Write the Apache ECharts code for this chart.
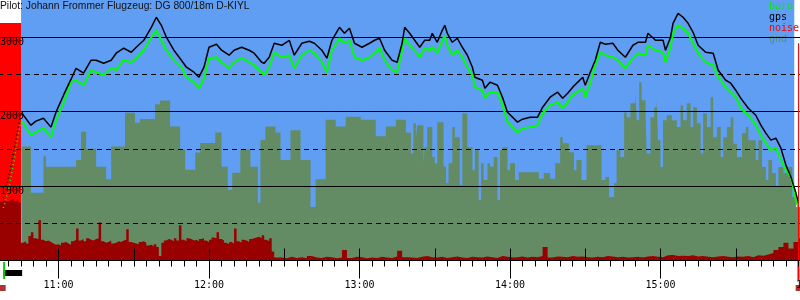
<!DOCTYPE html>
<html><head><meta charset="utf-8">
<script src="https://cdn.jsdelivr.net/npm/echarts@6/dist/echarts.min.js"></script>
<style>html,body{margin:0;padding:0;background:#fff}#c{width:800px;height:300px}</style>
</head><body><div id="c"></div>
<script>
const titleText = 'Pilot: Johann Frommer Flugzeug: DG 800/18m D-KIYL';
const legendNames = ['baro', 'gps', 'noise', 'gnd'];
const yLabels = [1000, 2000, 3000];

const lineTimes = [
 '10:45','10:46','10:49','10:51','10:54','10:57','10:59','11:02','11:05','11:07',
 '11:10','11:13','11:15','11:18','11:21','11:23','11:26','11:29','11:31','11:34',
 '11:37','11:39','11:41','11:43','11:46','11:49','11:51','11:54','11:56','11:58',
 '12:00','12:03','12:05','12:08','12:10','12:13','12:16','12:18','12:21','12:22',
 '12:24','12:26','12:29','12:32','12:34','12:37','12:40','12:42','12:45','12:47',
 '12:49','12:52','12:54','12:56','12:58','13:01','13:04','13:06','13:08','13:10',
 '13:13','13:15','13:17','13:18','13:20','13:22','13:24','13:26','13:28','13:29',
 '13:31','13:33','13:34','13:35','13:37','13:39','13:41','13:43','13:45','13:46',
 '13:49','13:50','13:52','13:55','13:57','13:59','14:03','14:05','14:08','14:11',
 '14:13','14:16','14:19','14:21','14:23','14:25','14:29','14:30','14:32','14:34',
 '14:36','14:38','14:41','14:43','14:46','14:49','14:51','14:54','14:55','14:58',
 '15:01','15:02','15:04','15:05','15:07','15:09','15:11','15:13','15:15','15:18',
 '15:21','15:23','15:26','15:28','15:30','15:32','15:35','15:38','15:40','15:42',
 '15:44','15:46','15:48','15:50','15:52','15:54','15:55'
];
const baroValues = [
 1860,1845,1684,1725,1778,1657,1885,2114,2396,2422,
 2355,2557,2530,2490,2583,2557,2691,2664,2718,2825,
 3000,3093,2959,2825,2691,2597,2463,2396,2315,2449,
 2718,2731,2664,2583,2664,2718,2664,2624,2530,2490,
 2597,2798,2731,2758,2583,2758,2825,2785,2664,2530,
 2825,2986,2919,2959,2731,2691,2731,2785,2852,2691,
 2557,2530,2825,2986,2892,2825,2731,2852,2825,2865,
 2785,2959,3026,2892,2758,2825,2731,2597,2490,2329,
 2288,2181,2261,2261,2087,1859,1724,1778,1792,1818,
 1979,2087,2127,2046,2127,2221,2315,2194,2382,2624,
 2798,2758,2731,2691,2583,2718,2785,2758,2892,2825,
 2798,2664,2865,3053,3160,3120,3053,2919,2785,2664,
 2624,2463,2329,2261,2194,2046,1952,1818,1684,1577,
 1483,1510,1349,1214,1121,812,705
];
const gpsValues = [
 1979,1953,1818,1872,1912,1792,1993,2221,2436,2583,
 2516,2691,2691,2650,2691,2785,2852,2798,2865,2959,
 3133,3268,3160,3000,2825,2691,2597,2530,2463,2597,
 2865,2906,2825,2758,2825,2865,2825,2785,2664,2650,
 2731,2919,2892,2959,2758,2919,2946,2919,2825,2718,
 2959,3133,3053,3120,2919,2865,2919,2959,2986,2825,
 2691,2664,2919,3133,3053,2959,2865,2959,2959,3053,
 2932,3093,3160,3053,2932,2986,2865,2758,2597,2463,
 2422,2315,2396,2355,2194,1993,1859,1899,1926,1926,
 2060,2194,2261,2181,2248,2329,2463,2355,2530,2691,
 2932,2906,2919,2825,2731,2892,2932,2932,3053,2959,
 2959,2825,3000,3187,3321,3268,3187,3066,2892,2798,
 2785,2557,2422,2382,2288,2181,2046,1952,1818,1711,
 1617,1644,1510,1281,1121,906,772
];

const climbTimes = ['10:38','10:39','10:40','10:41','10:42','10:43','10:44','10:45'];
const climbBaro = [705,812,946,1107,1282,1483,1684,1860];
const climbGps = [839,973,1107,1268,1443,1617,1805,1979];

const gndTimes = [
 '10:45:30','10:49','10:54','10:55','11:07','11:09','11:11','11:15','11:19','11:21',
 '11:26:30','11:30:30','11:32:30','11:38:30','11:40:30','11:44:30','11:48:30','11:50:30','11:54:30','11:56:30',
 '12:02:30','12:05','12:07:30','12:09:15','12:12:30','12:16:30','12:19:30','12:20:30','12:22:30','12:26:30',
 '12:28:30','12:32:30','12:36:30','12:40:30','12:42:30','12:46:30','12:50:30','12:54:30','13:00:30','13:06:30',
 '13:10:30','13:14:30','13:18:30','13:20:30','13:21:30','13:22:30','13:23','13:25:30','13:26','13:27',
 '13:29','13:30','13:31','13:33:30','13:34:30','13:35:30','13:37','13:38','13:40','13:41',
 '13:43','13:45','13:46','13:47:30','13:48:30','13:49:30','13:51','13:52','13:53:30','13:55',
 '13:56','13:57','13:59','14:00','14:02','14:03:30','14:11:30','14:13:30','14:16','14:18',
 '14:20','14:21','14:23:30','14:25:30','14:26:30','14:28:30','14:30:30','14:36:30','14:38','14:39:30',
 '14:41:30','14:42:30','14:44','14:45:30','14:46:30','14:48','14:50','14:50:30','14:51:30','14:52:30',
 '14:54','14:54:30','14:56','14:57:30','14:58:30','14:59','15:00','15:01','15:02:30','15:04:30',
 '15:06:30','15:08','15:09','15:10:30','15:12','15:13','15:14:30','15:16','15:17','15:18:30',
 '15:20','15:21','15:22:30','15:24','15:25','15:26:30','15:28','15:29','15:30:30','15:32:30',
 '15:34','15:35','15:38','15:39','15:40:30','15:42','15:43','15:44:30','15:46','15:47',
 '15:49','15:51','15:52:30','15:54','15:56'
];
const gndValues = [
 1530,910,1400,1260,1350,1730,1500,1260,1090,1530,
 1985,1850,1900,2100,2150,1800,1490,1220,1450,1580,
 1720,1260,950,1180,1490,1260,780,1620,1800,1720,
 1350,1750,1350,720,1090,1890,1800,1930,1890,1670,
 1800,1890,1720,1440,1845,1657,1818,1308,1523,1792,
 1390,1308,1859,1264,1040,1308,1792,1657,1013,1979,
 1523,1214,1483,812,1308,1080,1308,1264,1390,812,
 1483,1523,1214,1308,1080,1187,1100,1174,1100,1308,
 1657,1576,1456,1214,1349,1080,1550,1080,1121,853,
 1040,1483,1390,1993,1926,2114,2288,1885,2396,2154,
 2020,1436,1926,2060,2194,1617,1255,1885,1952,1885,
 1792,2087,1885,2114,1792,2060,1845,1436,1979,1792,
 2194,1657,1792,1390,1657,1792,1926,1570,1390,1710,
 1792,1617,1349,1617,1255,1080,1349,1174,986,1255,
 1174,1255,853,718,718
];

// noise, one value per minute from 10:36 to 12:26
const noiseStartA = '10:36';
const noiseStepA = 1;
const noiseValuesA = [
 790,800,820,790,810,830,800,810,780,
 240,260,230,330,380,300,290,540,280,260,
 270,250,230,210,220,200,240,250,230,210,
 260,280,430,270,290,260,300,280,270,290,
 300,510,260,240,250,270,230,240,260,250,
 270,280,420,250,240,230,220,250,260,240,
 200,210,190,220,180,60,240,270,290,280,
 260,300,270,475,280,260,300,290,270,280,
 260,290,300,270,250,280,310,300,380,290,
 270,240,220,250,230,430,260,240,280,270,
 250,290,300,310,320,300,340,280,260,300,
 120,40
];
// noise, one value every two minutes from 12:27 to 15:55
const noiseStartB = '12:27';
const noiseStepB = 2;
const noiseValuesB = [
 40,30,50,35,45,30,60,40,35,50,
 45,30,40,140,35,50,45,30,40,35,
 50,40,35,55,130,45,40,35,50,60,
 45,40,50,35,45,55,40,35,50,45,
 40,55,45,35,60,50,40,45,55,40,
 50,45,60,180,40,55,50,45,60,50,
 55,45,40,50,45,60,55,45,50,40,
 45,50,40,55,60,50,45,70,75,60,
 65,60,70,55,60,50,45,55,60,50,
 45,55,50,60,45,70,65,80,100,140,
 180,240,160,250,300
];

const flightStart = '10:45:05';
const flightEnd = '15:53:20';
const engineBandTop = 3190;
const motorRun = ['10:38', '10:45:30'];
const releaseMark = '10:38:20';
const noiseMarks = ['10:37:45', '15:55:05'];
const landingMark = '15:55';
const landingTop = 2920;

const toMin = s => { const p = s.split(':').map(Number); return p[0] * 60 + p[1] + (p[2] || 0) / 60; };
const fmt = v => { const h = Math.floor(v / 60), m = Math.round(v % 60); return h + ':' + String(m).padStart(2, '0'); };
const pairs = (ts, vs) => ts.map((t, i) => [toMin(t), vs[i]]);
const seq = (start, step, vs) => vs.map((v, i) => [toMin(start) + i * step, v]);

const noiseA = seq(noiseStartA, noiseStepA, noiseValuesA);
const noiseB = seq(noiseStartB, noiseStepB, noiseValuesB);
const noiseData = noiseA.concat(noiseB);
noiseData.push([noiseData[noiseData.length - 1][0] + noiseStepB, noiseValuesB[noiseValuesB.length - 1]]);

const BLUE = '#5f9ef2';
const GND = '#648c64';
const NOISE = '#990000';
const MONO = 'DejaVu Sans Mono';

const chart = echarts.init(document.getElementById('c'), null, { renderer: 'canvas' });
const gridL = -92, gridR = -11;
chart.setOption({
  animation: false,
  backgroundColor: '#ffffff',
  title: {
    text: titleText, left: 0, top: 1, padding: 0,
    textStyle: { fontFamily: 'Liberation Sans', fontSize: 10.3, fontWeight: 'normal', color: '#111111' }
  },
  legend: {
    orient: 'vertical', right: 1, top: 1, padding: 0, icon: 'none', itemWidth: 0, itemHeight: 9, itemGap: 1,
    selectedMode: false,
    textStyle: { fontFamily: MONO, fontSize: 10, padding: 0 },
    data: [
      { name: legendNames[0], textStyle: { color: '#00ee00' } },
      { name: legendNames[1], textStyle: { color: '#000000' } },
      { name: legendNames[2], textStyle: { color: '#ff0000' } },
      { name: legendNames[3], textStyle: { color: GND } }
    ]
  },
  grid: [
    { left: gridL, right: gridR, top: 0, bottom: 39.5, containLabel: false, outerBoundsMode: 'none' },
    { left: gridL, right: gridR, top: 261, height: 31, containLabel: false, outerBoundsMode: 'none' }
  ],
  xAxis: [
    { type: 'value', gridIndex: 0, min: 600, max: 960, interval: 60, z: 6,
      axisLine: { lineStyle: { color: '#000', width: 1 } },
      axisTick: { length: 18, lineStyle: { color: '#000', width: 1 } },
      minorTick: { show: true, splitNumber: 12, length: 6, lineStyle: { color: '#000', width: 1 } },
      axisLabel: { formatter: fmt, margin: 20, color: '#000', fontFamily: MONO, fontSize: 10 },
      splitLine: { show: false } },
    { type: 'value', gridIndex: 0, min: 600, max: 960, interval: 30, z: 6,
      axisLine: { show: false },
      axisTick: { length: 12, lineStyle: { color: '#000', width: 1 } },
      axisLabel: { show: false }, splitLine: { show: false } },
    { type: 'value', gridIndex: 1, min: 600, max: 960, show: false }
  ],
  yAxis: [
    { type: 'value', gridIndex: 0, min: 0, max: 3500, interval: 1000, offset: gridL, z: 7,
      axisLine: { show: false }, axisTick: { show: false },
      axisLabel: { inside: true, margin: 0, align: 'left', verticalAlign: 'top', color: '#000',
        fontFamily: MONO, fontSize: 10, formatter: v => yLabels.includes(v) ? String(v) : '' },
      splitLine: { show: true, showMaxLine: false, lineStyle: { color: '#000', width: 1 } } },
    { type: 'value', gridIndex: 0, min: 0, max: 3500, interval: 500, z: 6,
      axisLine: { show: false }, axisTick: { show: false }, axisLabel: { show: false },
      splitLine: { show: true, showMaxLine: false, lineStyle: { color: '#000', width: 1, type: [5, 4] } } },
    { type: 'value', gridIndex: 1, min: 0, max: 31, show: false }
  ],
  series: [
    { name: 'bands', type: 'line', xAxisIndex: 0, yAxisIndex: 0, data: [], z: 0, silent: true,
      markArea: { silent: true, data: [
        [{ xAxis: toMin(flightStart), yAxis: 0, itemStyle: { color: BLUE } }, { xAxis: toMin(flightEnd), yAxis: 3500 }],
        [{ xAxis: 600, yAxis: 0, itemStyle: { color: '#ff0000' } }, { xAxis: toMin(flightStart), yAxis: engineBandTop }]
      ] } },
    { name: 'gnd', type: 'line', step: 'end', xAxisIndex: 0, yAxisIndex: 0, data: pairs(gndTimes, gndValues),
      symbol: 'none', lineStyle: { width: 0 }, itemStyle: { color: GND }, areaStyle: { color: GND, opacity: 1 }, z: 2 },
    { name: 'noise', type: 'line', step: 'end', xAxisIndex: 0, yAxisIndex: 0, data: noiseData,
      symbol: 'none', lineStyle: { width: 0 }, itemStyle: { color: NOISE }, areaStyle: { color: NOISE, opacity: 1 }, z: 3 },
    { name: 'baro', type: 'line', xAxisIndex: 0, yAxisIndex: 0, data: pairs(lineTimes, baroValues),
      symbol: 'none', lineStyle: { color: '#00ff00', width: 2 }, itemStyle: { color: '#00ff00' }, z: 8 },
    { name: 'gps', type: 'line', xAxisIndex: 0, yAxisIndex: 0, data: pairs(lineTimes, gpsValues),
      symbol: 'none', lineStyle: { color: '#000', width: 1.5 }, itemStyle: { color: '#000' }, z: 9 },
    { name: 'baroClimb', type: 'line', xAxisIndex: 0, yAxisIndex: 0, data: pairs(climbTimes, climbBaro),
      symbol: 'none', lineStyle: { color: '#00ff00', width: 1.5, type: [1, 3] }, z: 8 },
    { name: 'gpsClimb', type: 'line', xAxisIndex: 0, yAxisIndex: 0, data: pairs(climbTimes, climbGps),
      symbol: 'none', lineStyle: { color: '#000', width: 1.5, type: [1, 3] }, z: 9 },
    { name: 'landing', type: 'line', xAxisIndex: 0, yAxisIndex: 0,
      data: [[toMin(landingMark), 0], [toMin(landingMark), landingTop]],
      symbol: 'none', lineStyle: { color: '#ff0000', width: 1 }, z: 10 },
    { name: 'motor', type: 'line', xAxisIndex: 2, yAxisIndex: 2, data: motorRun.map(t => [toMin(t), 19]),
      symbol: 'none', lineStyle: { color: '#000', width: 6 } },
    { name: 'release', type: 'line', xAxisIndex: 2, yAxisIndex: 2,
      data: [[toMin(releaseMark), 13], [toMin(releaseMark), 30]],
      symbol: 'none', lineStyle: { color: '#00cc00', width: 2 } },
    { name: 'noiseMarks', type: 'scatter', xAxisIndex: 2, yAxisIndex: 2, data: noiseMarks.map(t => [toMin(t), 4]),
      symbol: 'rect', symbolSize: 6, itemStyle: { color: NOISE } },
    { name: 'landing2', type: 'line', xAxisIndex: 2, yAxisIndex: 2,
      data: [[toMin(landingMark), 12], [toMin(landingMark), 31]],
      symbol: 'none', lineStyle: { color: '#ff0000', width: 2 } }
  ]
});
</script>
</body></html>
